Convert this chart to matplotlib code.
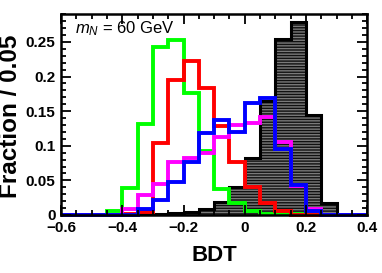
import numpy as np
import matplotlib
matplotlib.use("Agg")
import matplotlib.pyplot as plt
from matplotlib.ticker import MultipleLocator

plt.rcParams['font.family'] = ['Liberation Sans', 'DejaVu Sans']
plt.rcParams['mathtext.fontset'] = 'custom'
plt.rcParams['mathtext.rm'] = 'Liberation Sans'
plt.rcParams['mathtext.it'] = 'Liberation Sans:italic'
plt.rcParams['hatch.linewidth'] = 1.0

# BDT bins of width 0.05 from -0.6 to 0.4
bin_edges = np.linspace(-0.6, 0.4, 21)

background = [0, 0, 0, 0, 0.001, 0.002, 0.002, 0.003, 0.005, 0.009,
              0.019, 0.040, 0.082, 0.165, 0.254, 0.279, 0.144, 0.017, 0, 0]
green = [0, 0, 0, 0.006, 0.039, 0.132, 0.243, 0.253, 0.176, 0.092,
         0.037, 0.017, 0.006, 0.002, 0.002, 0.002, 0.002, 0, 0, 0]
red = [0, 0, 0, 0, 0.002, 0.005, 0.104, 0.195, 0.222, 0.184,
       0.128, 0.077, 0.041, 0.018, 0.006, 0, 0, 0, 0, 0]
magenta = [0, 0, 0, 0, 0.008, 0.029, 0.045, 0.076, 0.082, 0.089,
           0.113, 0.130, 0.133, 0.142, 0.105, 0.042, 0.009, 0, 0, 0]
blue = [0, 0, 0, 0, 0, 0.008, 0.022, 0.048, 0.077, 0.118,
        0.137, 0.120, 0.162, 0.169, 0.095, 0.044, 0.006, 0, 0, 0]

fig = plt.figure(figsize=(3.82, 2.73), dpi=100)
ax = fig.add_axes([0.160, 0.2125, 0.801, 0.738])

# hatched black background
ax.stairs(background, bin_edges, fill=True, facecolor='#111111',
          edgecolor='#7a7a7a', hatch='------', linewidth=0)
ax.stairs(background, bin_edges, color='black', linewidth=2.2)

for vals, col in [(green, '#00ff00'), (red, '#ff0000'),
                  (magenta, '#ff00ff'), (blue, '#0000ff')]:
    ax.stairs(vals, bin_edges, color=col, linewidth=2.8, clip_on=False)

ax.set_xlim(-0.6, 0.4)
ax.set_ylim(0, 0.291)

ax.xaxis.set_major_locator(MultipleLocator(0.2))
ax.xaxis.set_minor_locator(MultipleLocator(0.05))
ax.yaxis.set_major_locator(MultipleLocator(0.05))
ax.yaxis.set_minor_locator(MultipleLocator(0.01))
ax.tick_params(which='both', direction='in', top=True, right=True, width=1.3)
ax.tick_params(which='major', length=7, labelsize=11, pad=4)
ax.tick_params(which='minor', length=3.5)
ax.set_xticks([-0.6, -0.4, -0.2, 0, 0.2, 0.4])
ax.set_xticklabels(['\u22120.6', '\u22120.4', '\u22120.2', '0', '0.2', '0.4'])
ax.set_yticks([0, 0.05, 0.1, 0.15, 0.2, 0.25])
ax.set_yticklabels(['0', '0.05', '0.1', '0.15', '0.2', '0.25'])
for lab in ax.get_xticklabels() + ax.get_yticklabels():
    lab.set_fontweight('bold')
for sp in ax.spines.values():
    sp.set_linewidth(1.8)

ax.set_xlabel('BDT', fontsize=16, fontweight='bold')
ax.xaxis.set_label_coords(0.50, -0.15)
ax.set_ylabel('Fraction / 0.05', fontsize=17.5, fontweight='bold')
ax.yaxis.set_label_coords(-0.128, 0.49)

ax.text(0.046, 0.903, r'$m_{N}$ = 60 GeV', transform=ax.transAxes,
        fontsize=12, va='baseline', ha='left')

fig.savefig('out.png', dpi=100)
print("Saved: out.png")
